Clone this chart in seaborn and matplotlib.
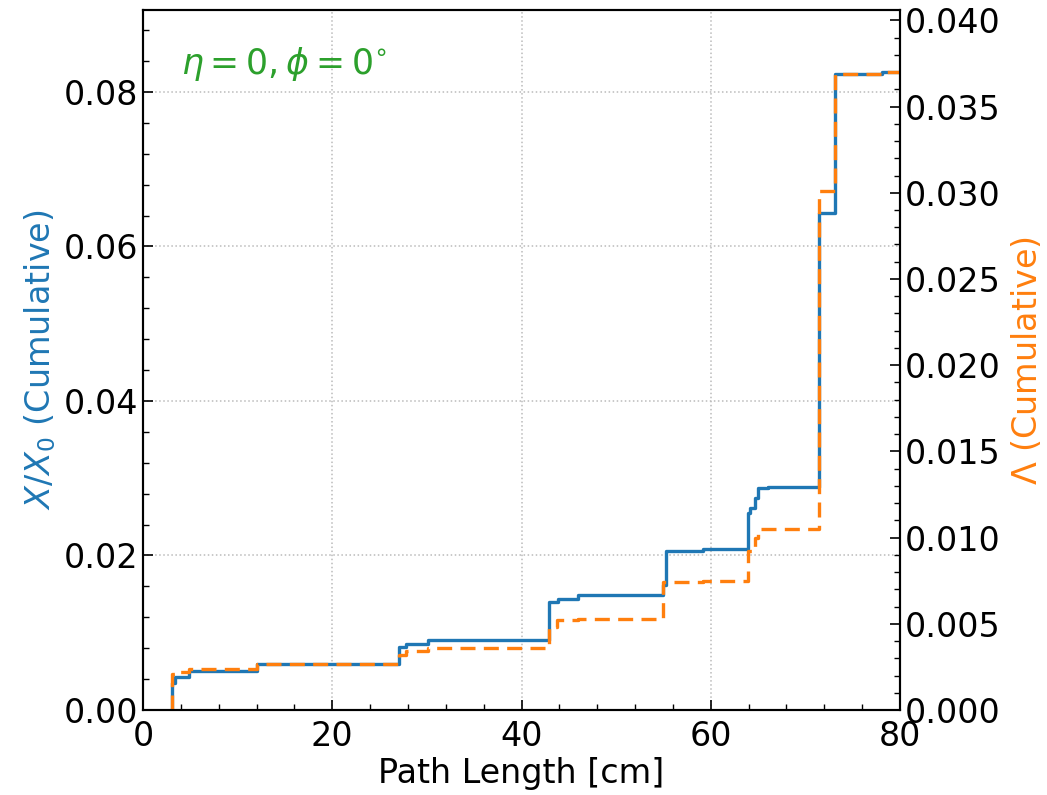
import numpy as np
import pandas as pd
import matplotlib
matplotlib.use('Agg')
import matplotlib.pyplot as plt
from matplotlib.ticker import MultipleLocator, FormatStrFormatter
import seaborn as sns

# 路径长度断点 (cm)
path_cm = [3.05, 3.1, 3.4, 3.9, 4.9, 12.0, 27.0, 27.8, 30.1, 42.95, 43.7, 43.9, 46.0,
           55.0, 55.3, 59.2, 63.9, 64.1, 64.7, 65.0, 66.1, 71.4, 73.1, 78.1, 80.0]
# X/X0 累计
x_over_x0 = [0.0, 0.0035, 0.0043, 0.0043, 0.0050, 0.0059, 0.0082, 0.0086, 0.0090,
             0.0140, 0.0140, 0.0144, 0.0149, 0.0162, 0.0206, 0.0208, 0.0255, 0.0261,
             0.0274, 0.0287, 0.0289, 0.0643, 0.0823, 0.0826, 0.0826]
# Lambda 累计
lambda_cum = [0.0, 0.00209, 0.00209, 0.0022, 0.0024, 0.00266, 0.0032, 0.0034, 0.0036,
              0.0048, 0.0052, 0.0052, 0.00526, 0.0074, 0.0074, 0.0075, 0.0092, 0.0092,
              0.00995, 0.0105, 0.0105, 0.0301, 0.0369, 0.0370, 0.0370]

df = pd.DataFrame({'path': path_cm, 'x0': x_over_x0, 'lam': lambda_cum})

sns.set_style('ticks')
plt.rcParams['font.family'] = ['DejaVu Sans']
plt.rcParams['text.color'] = 'black'
plt.rcParams['xtick.color'] = 'black'
plt.rcParams['ytick.color'] = 'black'
plt.rcParams['axes.edgecolor'] = 'black'
plt.rcParams['axes.labelcolor'] = 'black'

fig, ax = plt.subplots(figsize=(10.47, 7.95), dpi=100)
fig.subplots_adjust(left=0.1366, right=0.8596, top=0.9874, bottom=0.1069)

sns.lineplot(x='path', y='x0', data=df, ax=ax, color='tab:blue', lw=2.4,
             drawstyle='steps-post', estimator=None, sort=False)
ax.set_xlim(0, 80)
ax.set_ylim(0, 0.0906)
ax.set_xlabel('Path Length [cm]', fontsize=24, labelpad=3)
ax.set_ylabel('$X/X_0$ (Cumulative)', fontsize=24, color='tab:blue')
ax.grid(True, linestyle=':', color='#bbbbbb', lw=1.1)
ax.xaxis.set_major_locator(MultipleLocator(20))
ax.xaxis.set_minor_locator(MultipleLocator(4))
ax.yaxis.set_major_locator(MultipleLocator(0.02))
ax.yaxis.set_minor_locator(MultipleLocator(0.004))
ax.yaxis.set_major_formatter(FormatStrFormatter('%.2f'))
ax.tick_params(which='both', direction='in', labelsize=24)
ax.tick_params(which='major', length=7, width=1.2)
ax.tick_params(which='minor', length=4, width=1)
ax.tick_params(axis='x', which='major', pad=7)

ax2 = ax.twinx()
sns.lineplot(x='path', y='lam', data=df, ax=ax2, color='tab:orange', lw=2.4,
             dashes=False, drawstyle='steps-post', estimator=None, sort=False)
ax2.lines[0].set_linestyle((0, (4.5, 2.5)))
ax2.set_ylim(0, 0.0406)
ax2.set_ylabel('$\\Lambda$ (Cumulative)', fontsize=24, color='tab:orange', labelpad=7)
ax2.yaxis.set_major_locator(MultipleLocator(0.005))
ax2.yaxis.set_minor_locator(MultipleLocator(0.001))
ax2.yaxis.set_major_formatter(FormatStrFormatter('%.3f'))
ax2.tick_params(which='both', direction='in', labelsize=24)
ax2.tick_params(which='major', length=7, width=1.2)
ax2.tick_params(which='minor', length=4, width=1)
ax2.set_xlabel('')

for a in (ax, ax2):
    for s in a.spines.values():
        s.set_linewidth(1.5)
        s.set_visible(True)

ax.text(0.05, 0.95, '$\\eta = 0, \\phi = 0^{\\circ}$', transform=ax.transAxes,
        fontsize=25, color='tab:green', va='top')

plt.savefig('out.png', dpi=100)
